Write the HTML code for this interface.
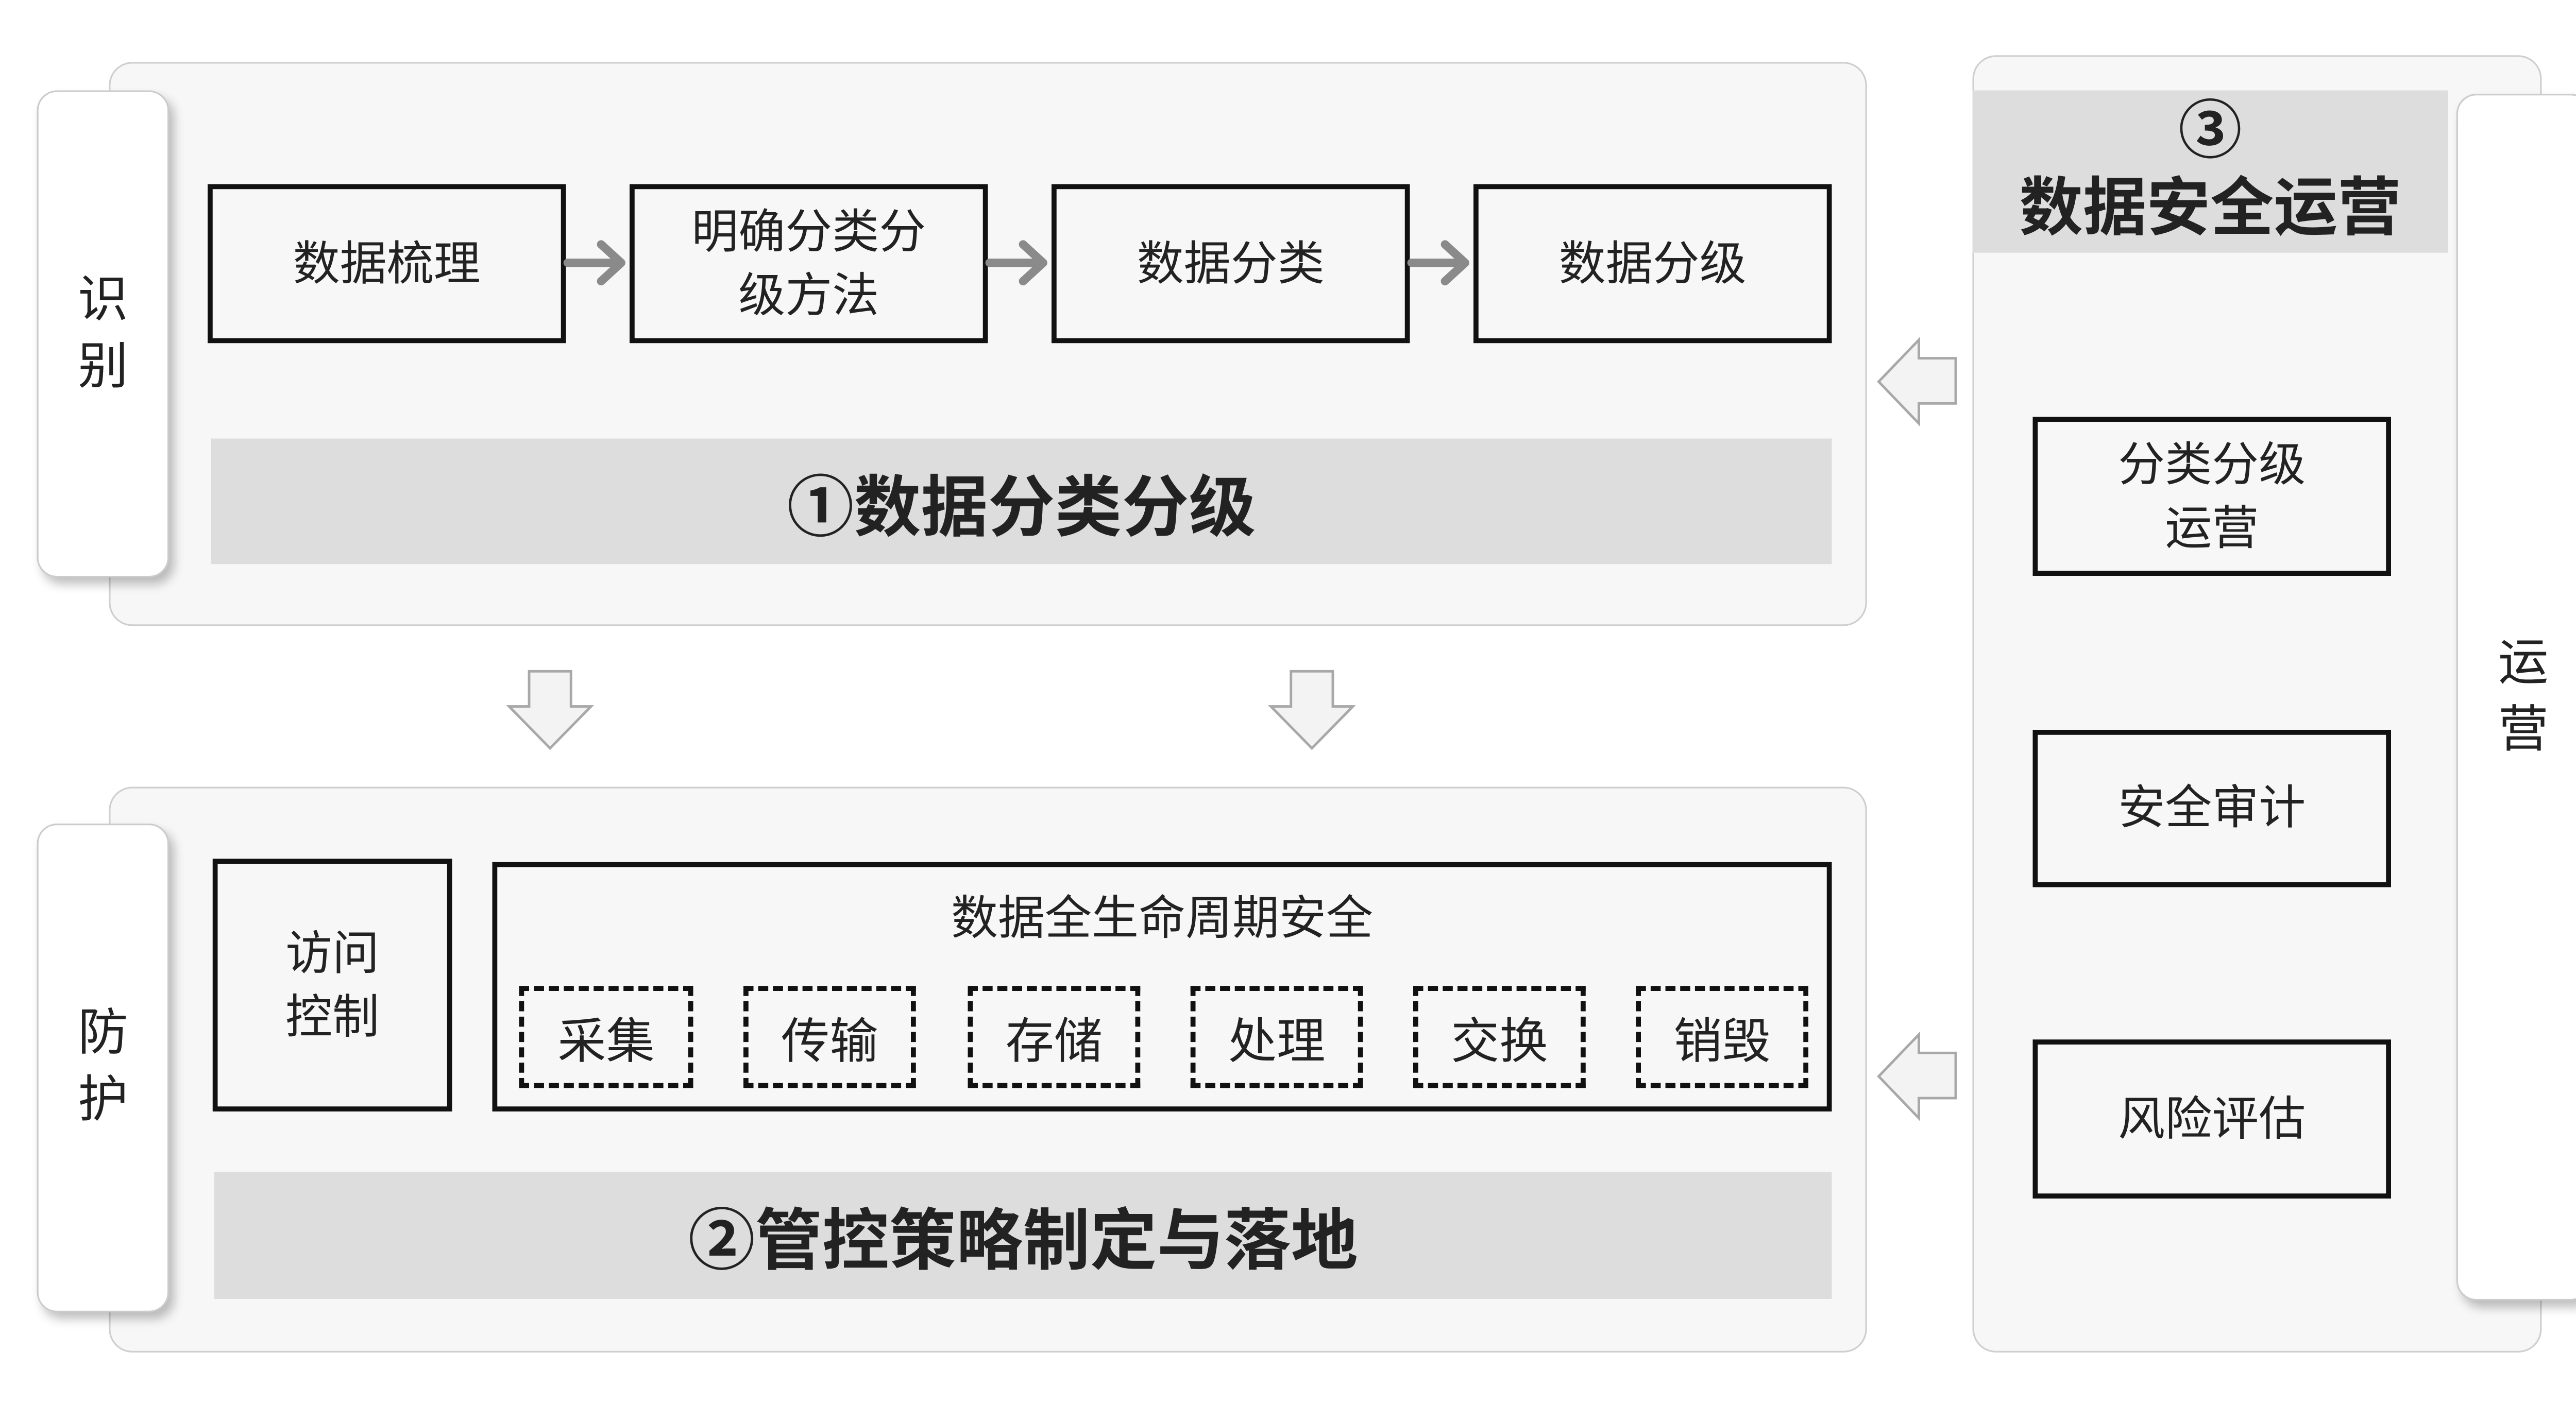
<!DOCTYPE html>
<html><head><meta charset="utf-8"><style>
html,body{margin:0;padding:0;background:#fff;width:5096px;height:2724px;overflow:hidden}
#c{position:absolute;left:0;top:0;width:1568px;height:838px;transform:scale(3.25);transform-origin:0 0;font-family:"Liberation Sans","Noto Sans CJK SC",sans-serif;color:#222}
.a{position:absolute;box-sizing:border-box}
.panel{background:#f7f7f7;border:1.5px solid #cfcfcf;border-radius:14px}
.tab{background:#fff;border:1.5px solid #cccccc;border-radius:12px;box-shadow:3px 4px 6px rgba(0,0,0,0.25);display:flex;align-items:center;justify-content:center;font-size:30px;line-height:40px;text-align:center}
.box{border:3px solid #111;display:flex;align-items:center;justify-content:center;text-align:center;font-size:28px;line-height:38px}
.dash{border:3px dashed #111;display:flex;align-items:center;justify-content:center;font-size:29px}
.bar{background:#dddddd;display:flex;align-items:center;justify-content:center;font-size:40px;font-weight:bold}
</style></head><body><div id="c">
<div class="a panel" style="left:65px;top:37px;width:1050px;height:337px"></div>
<div class="a panel" style="left:65px;top:470px;width:1050px;height:338px"></div>
<div class="a panel" style="left:1178px;top:33px;width:340px;height:775px"></div>

<div class="a tab" style="left:22px;top:54px;width:79px;height:291px">识<br>别</div>
<div class="a tab" style="left:22px;top:492px;width:79px;height:292px">防<br>护</div>
<div class="a tab" style="left:1467px;top:56px;width:80px;height:721px">运<br>营</div>

<div class="a box" style="left:124px;top:110px;width:214px;height:95px">数据梳理</div>
<div class="a box" style="left:376px;top:110px;width:214px;height:95px">明确分类分<br>级方法</div>
<div class="a box" style="left:628px;top:110px;width:214px;height:95px">数据分类</div>
<div class="a box" style="left:880px;top:110px;width:214px;height:95px">数据分级</div>

<svg class="a" style="left:0;top:0" width="1568" height="838">
<g stroke="#8a8a8a" stroke-width="5" fill="none" stroke-linecap="round" stroke-linejoin="round">
<path d="M339 157H370M359 146L371 157L359 168"/>
<path d="M591 157H622M611 146L623 157L611 168"/>
<path d="M843 157H874M863 146L875 157L863 168"/>
</g>
<g fill="#f3f3f3" stroke="#a8a8a8" stroke-width="1.5">
<path d="M316 401H341V422H353L328.5 447L304 422H316Z"/>
<path d="M771 401H796V422H808L783.5 447L759 422H771Z"/>
<path d="M1168 214V241H1146V253L1122 228L1146 203V214Z"/>
<path d="M1168 629V656H1146V668L1122 643L1146 618V629Z"/>
</g>
</svg>

<div class="a bar" style="left:126px;top:262px;width:968px;height:75px">①数据分类分级</div>
<div class="a bar" style="left:128px;top:700px;width:966px;height:76px">②管控策略制定与落地</div>

<div class="a box" style="left:127px;top:513px;width:143px;height:151px">访问<br>控制</div>
<div class="a box" style="left:294px;top:515px;width:800px;height:149px;align-items:flex-start;padding-top:12px">数据全生命周期安全</div>
<div class="a dash" style="left:310px;top:589px;width:104px;height:61px">采集</div>
<div class="a dash" style="left:444px;top:589px;width:103px;height:61px">传输</div>
<div class="a dash" style="left:578px;top:589px;width:103px;height:61px">存储</div>
<div class="a dash" style="left:711px;top:589px;width:103px;height:61px">处理</div>
<div class="a dash" style="left:844px;top:589px;width:103px;height:61px">交换</div>
<div class="a dash" style="left:977px;top:589px;width:103px;height:61px">销毁</div>

<div class="a" style="left:1178px;top:54px;width:284px;height:97px;background:#dddddd;text-align:center;font-weight:bold;font-size:38px;line-height:46px;padding-top:2px">③<br>数据安全运营</div>

<div class="a box" style="left:1214px;top:249px;width:214px;height:95px">分类分级<br>运营</div>
<div class="a box" style="left:1214px;top:436px;width:214px;height:94px">安全审计</div>
<div class="a box" style="left:1214px;top:621px;width:214px;height:95px">风险评估</div>
</div></body></html>
